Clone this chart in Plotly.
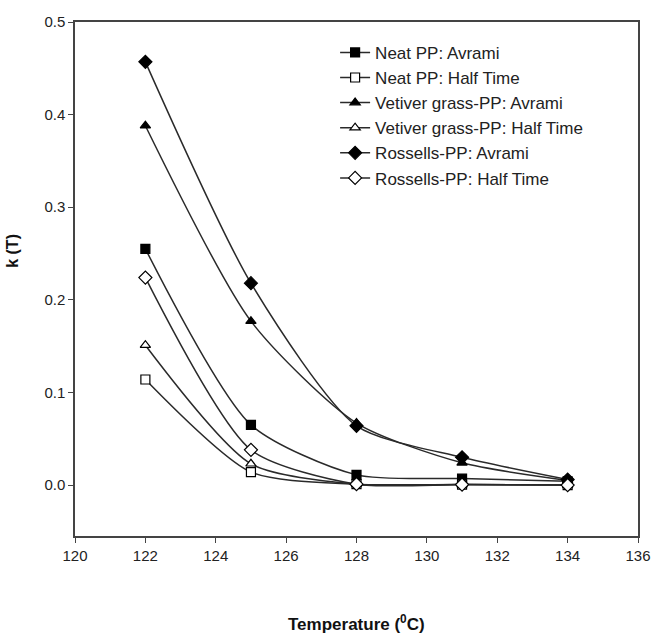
import plotly.graph_objects as go

# Crystallisation temperatures (°C)
temperature = [122, 125, 128, 131, 134]

# Rate constant k(T) for each sample and method
neat_avrami = [0.255, 0.065, 0.011, 0.007, 0.004]
neat_half = [0.114, 0.014, 0.001, 0.0005, 0.0]
vetiver_avrami = [0.388, 0.177, 0.067, 0.024, 0.005]
vetiver_half = [0.151, 0.023, 0.001, 0.0005, 0.0]
rossells_avrami = [0.457, 0.218, 0.064, 0.030, 0.006]
rossells_half = [0.224, 0.038, 0.001, 0.0005, 0.0]

series_names = [
    "Neat PP: Avrami",
    "Neat PP: Half Time",
    "Vetiver grass-PP: Avrami",
    "Vetiver grass-PP: Half Time",
    "Rossells-PP: Avrami",
    "Rossells-PP: Half Time",
]

x_ticks = list(range(120, 137, 2))
y_ticks = [0.0, 0.1, 0.2, 0.3, 0.4, 0.5]

FONT = "Liberation Sans Narrow, Arial Narrow, Liberation Sans, Arial, sans-serif"

# (values, marker shape, marker fill) — white fill gives the hollow markers
series = [
    (neat_avrami, "square", "black"),
    (neat_half, "square", "white"),
    (vetiver_avrami, "triangle-up", "black"),
    (vetiver_half, "triangle-up", "white"),
    (rossells_avrami, "diamond", "black"),
    (rossells_half, "diamond", "white"),
]

fig = go.Figure()
for name, (vals, sym, fill) in zip(series_names, series):
    fig.add_trace(go.Scatter(
        x=temperature, y=vals, name=name,
        mode="lines+markers",
        line=dict(color="#2a2a2a", width=1.5, shape="spline", smoothing=0.7),
        marker=dict(symbol=sym, size=10 if sym == "diamond" else 9,
                    color=fill, line=dict(color="black", width=1.2)),
    ))

axis_common = dict(
    showline=True, linecolor="#444", linewidth=1.5, mirror=True,
    ticks="outside", ticklen=5, tickcolor="#444", tickwidth=1.2,
    showgrid=False, zeroline=False, automargin=False,
    tickfont=dict(family=FONT, size=15, color="#222"),
)

fig.update_layout(
    width=652, height=640,
    margin=dict(l=75, r=14, t=22, b=104),
    plot_bgcolor="white", paper_bgcolor="white",
    showlegend=True,
    legend=dict(
        x=0.462, y=0.975, xanchor="left", yanchor="top",
        bgcolor="rgba(0,0,0,0)",
        font=dict(family=FONT, size=17, color="#222"),
        tracegroupgap=0, itemsizing="trace",
    ),
    xaxis=dict(range=[120, 136], tickvals=x_ticks, **axis_common),
    yaxis=dict(range=[-0.055, 0.5], tickvals=y_ticks, tickformat=".1f", **axis_common),
    annotations=[
        dict(text="<b>Temperature (<sup>0</sup>C)</b>", xref="paper", yref="paper",
             x=0.5, y=-0.17, xanchor="center", yanchor="middle", showarrow=False,
             font=dict(family=FONT, size=17, color="#111")),
        dict(text="<b>k (T)</b>", xref="paper", yref="paper", textangle=-90,
             x=-0.11, y=0.555, xanchor="center", yanchor="middle", showarrow=False,
             font=dict(family=FONT, size=16, color="#111")),
    ],
)

fig.write_html("out.html")
